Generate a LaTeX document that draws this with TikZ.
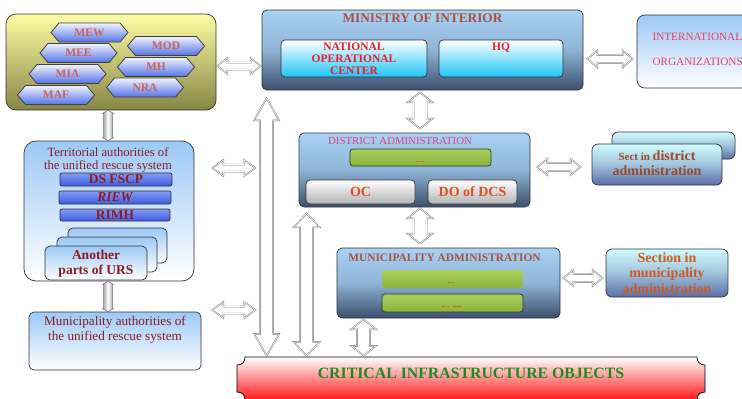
\documentclass[tikz,border=0pt]{standalone}
\usepackage{fontspec}
\setmainfont{Liberation Serif}
\usetikzlibrary{calc,shapes.symbols}

% palette
\definecolor{yelTop}{HTML}{FFFDA4}
\definecolor{yelBot}{HTML}{878545}
\definecolor{hexTop}{HTML}{F2F3FF}
\definecolor{hexBot}{HTML}{5474E6}
\definecolor{hexText}{HTML}{C8625A}
\definecolor{skyTop}{HTML}{A9D2F4}
\definecolor{skyMid}{HTML}{8FB4D6}
\definecolor{slateBot}{HTML}{3A4F6C}
\definecolor{cyanBot}{HTML}{1EC6FA}
\definecolor{hotRed}{HTML}{E81E28}
\definecolor{titleBrown}{HTML}{A8523F}
\definecolor{paleTop}{HTML}{9CC9F6}
\definecolor{intlText}{HTML}{E8405F}
\definecolor{darkRed}{HTML}{8A1C22}
\definecolor{barTop}{HTML}{849CF3}
\definecolor{barBot}{HTML}{3D5BE4}
\definecolor{greenTop}{HTML}{A8D05A}
\definecolor{greenBot}{HTML}{8AB23C}
\definecolor{greyBot}{HTML}{B2B2B2}
\definecolor{ocText}{HTML}{E04E1E}
\definecolor{distTitle}{HTML}{D8457A}
\definecolor{sectTop}{HTML}{CFFCFF}
\definecolor{sectBot}{HTML}{5A6EA8}
\definecolor{sectText}{HTML}{9A4A2A}
\definecolor{secText}{HTML}{D4581E}
\definecolor{critGreen}{HTML}{1E8B22}
\definecolor{critRed}{HTML}{FF1818}

\tikzset{
  panel/.style={draw=black!80, line width=0.7pt, rounded corners=5pt, inner sep=0pt},
  slatebox/.style={panel, top color=skyTop, bottom color=slateBot, middle color=skyMid},
  cyanbox/.style={panel, rounded corners=4pt, top color=white, bottom color=cyanBot},
  palebox/.style={panel, top color=paleTop, bottom color=white},
  sectbox/.style={panel, rounded corners=6pt, top color=sectTop, bottom color=sectBot, middle color=sectTop!60!sectBot},
  greenbar/.style={panel, rounded corners=3pt, top color=greenTop, bottom color=greenBot},
  greybox/.style={panel, rounded corners=4pt, top color=white, bottom color=greyBot},
  bluebar/.style={panel, rounded corners=2pt, top color=barTop, bottom color=barBot},
  hexa/.style={signal, signal to=east and west, signal pointer angle=100,
    draw=black!75, line width=0.8pt, inner sep=0pt, minimum width=77pt, minimum height=19pt,
    top color=hexTop, bottom color=hexBot, text=hexText,
    font=\fontsize{11.5}{12}\selectfont\bfseries},
  redb/.style={text=hotRed, font=\fontsize{11.5}{12}\selectfont\bfseries, align=center},
  drtext/.style={text=darkRed, align=center},
  blockarr/.style={draw=black!55, fill=white, line width=0.45pt, double=white,
    double distance=0.6pt, line join=miter},
  thinarr/.style={draw=black!55, line width=0.5pt, left color=black!40,
    right color=black!40, middle color=white},
}

% hollow double-headed block arrow from #2 to #3;
% #4 head length, #5 head half width, #6 shaft half width
\newcommand\blockarrow[6][blockarr]{%
  \path[#1] (#2)
    -- ($(#2)!#4!(#3)!#5!90:(#3)$)
    -- ($(#2)!#4!(#3)!#6!90:(#3)$)
    -- ($(#3)!#4!(#2)!#6!-90:(#2)$)
    -- ($(#3)!#4!(#2)!#5!-90:(#2)$)
    -- (#3)
    -- ($(#3)!#4!(#2)!#5!90:(#2)$)
    -- ($(#3)!#4!(#2)!#6!90:(#2)$)
    -- ($(#2)!#4!(#3)!#6!-90:(#3)$)
    -- ($(#2)!#4!(#3)!#5!-90:(#3)$)
    -- cycle;}

\begin{document}
\begin{tikzpicture}[x=1pt, y=-1pt]
\useasboundingbox (0,0) rectangle (742,399);
\clip (0,0) rectangle (742,399);

% ministries group
\node[panel, rounded corners=10pt, top color=yelTop, bottom color=yelBot,
  minimum width=210pt, minimum height=96pt] (yel) at (111,62) {};
\node[hexa] (mew) at (89.5,32.5) {MEW};
\node[hexa] (mod) at (166,46) {\raisebox{-2pt}{MOD}};
\node[hexa] (mee) at (78.5,53) {\raisebox{-2pt}{MEE}};
\node[hexa] (mh)  at (156,67) {MH};
\node[hexa] (mia) at (67.5,74) {\raisebox{-3pt}{MIA}};
\node[hexa] (nra) at (145,87.5) {NRA};
\node[hexa] (maf) at (56,95) {\raisebox{-3pt}{MAF}};

% ministry of interior
\node[slatebox, minimum width=321pt, minimum height=80pt] (moi) at (422.5,50) {};
\node[text=titleBrown, font=\fontsize{13.3}{14}\selectfont\bfseries] (moit)
  at ([yshift=-9pt]moi.north) {MINISTRY OF INTERIOR};
\node[cyanbox, minimum width=146pt, minimum height=37pt, redb] (noc) at (354,58.5)
  {NATIONAL\\OPERATIONAL\\CENTER};
\node[cyanbox, minimum width=124pt, minimum height=37pt] (hq) at (501,58.5) {};
\node[redb] (hqt) at ([yshift=-8pt]hq.north) {HQ};

% international organizations
\node[panel, rounded corners=8pt, top color=paleTop, bottom color=white,
  minimum width=125pt, minimum height=73pt] (intl) at (699.5,51.5) {};
\node[text=intlText, font=\fontsize{11.2}{12}\selectfont, anchor=west] (intl1) at (649,37) {INTERNATIONAL};
\node[text=intlText, font=\fontsize{11.2}{12}\selectfont, anchor=west] (intl2) at (649,62) {ORGANIZATIONS};

% territorial authorities
\node[palebox, rounded corners=12pt, minimum width=170pt, minimum height=140pt] (ter) at (109,211) {};
\node[drtext, font=\fontsize{12.6}{13}\selectfont] (tert) at (108,159.5)
  {Territorial authorities of\\the unified rescue system};
\node[bluebar, minimum width=112pt, minimum height=13pt, text=darkRed,
  font=\fontsize{13.5}{13}\selectfont\bfseries] (dsf) at (116,179.5) {DS FSCP};
\node[bluebar, minimum width=112pt, minimum height=13pt, text=darkRed,
  font=\fontsize{13.5}{13}\selectfont\bfseries\itshape] (riew) at (115,197.5) {RIEW};
\node[bluebar, minimum width=110pt, minimum height=12pt, text=darkRed,
  font=\fontsize{13.5}{13}\selectfont\bfseries] (rimh) at (115,215) {RIMH};
\node[palebox, minimum width=99pt, minimum height=35pt] (urs3) at (117.5,245.5) {};
\node[palebox, minimum width=100pt, minimum height=35pt] (urs2) at (107,254.5) {};
\node[palebox, minimum width=102pt, minimum height=34pt] (urs1) at (96,263) {};
\node[drtext, font=\fontsize{13.5}{15}\selectfont\bfseries] (urs1t) at (96,264)
  {Another\\parts of URS};

% municipality authorities
\node[palebox, minimum width=172pt, minimum height=58pt] (mauth) at (115,341) {};
\node[drtext, font=\fontsize{13.2}{15}\selectfont] (mautht) at (115,329.5)
  {Municipality authorities of\\the unified rescue system};

% district administration
\node[slatebox, minimum width=231pt, minimum height=74pt] (dist) at (414.5,170) {};
\node[text=distTitle, font=\fontsize{10.8}{11}\selectfont] (distt) at (400,141) {DISTRICT ADMINISTRATION};
\node[greenbar, minimum width=141pt, minimum height=17pt] (dgreen) at (420.5,157.5) {};
\node[text=hotRed, font=\fontsize{6}{6}\selectfont\bfseries] (dgreent) at (420,162.5) {-- --};
\node[greybox, minimum width=109pt, minimum height=24pt, text=ocText,
  font=\fontsize{14}{14}\selectfont\bfseries] (oc) at (360.5,192) {OC};
\node[greybox, minimum width=89pt, minimum height=24pt, text=ocText,
  font=\fontsize{14}{14}\selectfont\bfseries] (dodcs) at (472.5,192) {DO of DCS};

% section in district administration
\node[sectbox, minimum width=123pt, minimum height=27pt] (sectB) at (673.5,145.5) {};
\node[sectbox, minimum width=130pt, minimum height=41pt] (sectF) at (657,164.5) {};
\node[text=sectText, font=\fontsize{14}{15}\selectfont\bfseries, align=center] (sectt) at (657,163)
  {{\fontsize{11}{15}\selectfont Sect in }district\\administration};

% municipality administration
\node[slatebox, minimum width=223pt, minimum height=70pt] (mun) at (448.5,283) {};
\node[text=titleBrown, font=\fontsize{11.4}{12}\selectfont\bfseries] (munt) at (444.5,257.5)
  {MUNICIPALITY ADMINISTRATION};
\node[greenbar, draw=none, minimum width=141pt, minimum height=18pt] (mgreen1) at (452.5,279) {};
\node[text=hotRed, font=\fontsize{6}{6}\selectfont\bfseries] (mgreen1t) at (451,284) {-- -};
\node[greenbar, minimum width=141pt, minimum height=18pt] (mgreen2) at (452.5,303) {};
\node[text=hotRed, font=\fontsize{7}{7}\selectfont\bfseries] (mgreen2t) at (452,308) {-- -\ \ ----};

% section in municipality administration
\node[sectbox, minimum width=122pt, minimum height=48pt, text=secText,
  font=\fontsize{14}{15.5}\selectfont\bfseries, align=center] (sec) at (667,273)
  {Section in\\municipality\\administration};

% critical infrastructure objects
\node[minimum width=468pt, minimum height=43pt, inner sep=0pt] (crit) at (471,378.5) {};
\path[draw=black, line width=0.7pt, top color=white, bottom color=critRed]
  (245,357) -- (697,357) .. controls (697,362) and (700,365) .. (705,365)
  -- (705,392) .. controls (700,392) and (697,395) .. (697,400)
  -- (245,400) .. controls (245,395) and (242,392) .. (237,392)
  -- (237,365) .. controls (242,365) and (245,362) .. (245,357) -- cycle;
\node[text=critGreen, font=\fontsize{15.8}{16}\selectfont\bfseries] (critt) at (471,373)
  {CRITICAL INFRASTRUCTURE OBJECTS};

% connector end points
\path (yel.east) ++(1,4) coordinate (a1s);
\path (moi.west) ++(-1,16) coordinate (a1e);
\path (moi.east) ++(4,9) coordinate (a2s);
\path (intl.west |- a2s) ++(-4,0) coordinate (a2e);
\path (moi.south) ++(-2.5,2) coordinate (a3s);
\path (a3s |- dist.north) ++(0,-4) coordinate (a3e);
\path (a3s |- dist.south) ++(0,1) coordinate (a4s);
\path (a3s |- mun.north) ++(0,-4) coordinate (a4e);
\path (dist.east) ++(7,-3) coordinate (a5s);
\path (sectF.west |- a5s) ++(-11,0) coordinate (a5e);
\path (mun.east) ++(3,-5) coordinate (a6s);
\path (sec.west |- a6s) ++(-3,0) coordinate (a6e);
\path (ter.east) ++(18,-43) coordinate (a7s);
\path (a7s) ++(43,0) coordinate (a7e);
\path (mauth.east) ++(11,-31) coordinate (a8s);
\path (a8s) ++(43,0) coordinate (a8e);
\path (moi.south west) ++(5,8) coordinate (a9s);
\path (a9s |- crit.north) ++(0,-1) coordinate (a9e);
\path (dist.south west) ++(8,6) coordinate (a10s);
\path (a10s |- crit.north) ++(0,-1) coordinate (a10e);
\path (mun.south west) ++(27,1) coordinate (a11s);
\path (a11s |- crit.north) ++(0,-1) coordinate (a11e);
\path (yel.south) ++(-3,0) coordinate (a12s);
\path (a12s |- ter.north) coordinate (a12e);
\path (a12s |- ter.south) coordinate (a13s);
\path (a12s |- mauth.north) coordinate (a13e);

% connectors
\blockarrow{a1s}{a1e}{10pt}{8pt}{3.5pt}
\blockarrow{a2s}{a2e}{10pt}{8.5pt}{4pt}
\blockarrow{a3s}{a3e}{10pt}{12.5pt}{6.5pt}
\blockarrow{a4s}{a4e}{10pt}{12.5pt}{6.5pt}
\blockarrow{a5s}{a5e}{10pt}{8pt}{4pt}
\blockarrow{a6s}{a6e}{10pt}{8pt}{4pt}
\blockarrow{a7s}{a7e}{11pt}{8pt}{3.5pt}
\blockarrow{a8s}{a8e}{11pt}{8pt}{3.5pt}
\blockarrow{a9s}{a9e}{22pt}{12.5pt}{6.5pt}
\blockarrow{a10s}{a10e}{14pt}{13pt}{6.5pt}
\blockarrow{a11s}{a11e}{10pt}{12.5pt}{6.5pt}
\blockarrow[thinarr]{a12s}{a12e}{3pt}{5.5pt}{4.5pt}
\blockarrow[thinarr]{a13s}{a13e}{3pt}{5.5pt}{4.5pt}
\end{tikzpicture}
\end{document}
